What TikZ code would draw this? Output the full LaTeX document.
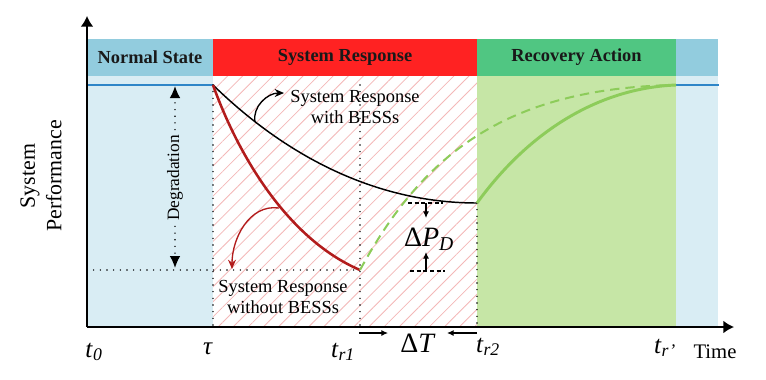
\documentclass[tikz,border=0pt]{standalone}
\usepackage{fontspec}
\setmainfont{Liberation Serif}
\usetikzlibrary{patterns.meta,arrows.meta}
\definecolor{headblue}{RGB}{146,204,222}
\definecolor{bodyblue}{RGB}{217,237,244}
\definecolor{headred}{RGB}{255,34,34}
\definecolor{headgreen}{RGB}{80,198,130}
\definecolor{bodygreen}{RGB}{198,230,166}
\definecolor{lineblue}{RGB}{46,134,200}
\definecolor{darkred}{RGB}{178,28,28}
\definecolor{curvegreen}{RGB}{141,204,90}
\definecolor{hatchpink}{RGB}{244,184,184}

\begin{document}
\begin{tikzpicture}[x=0.75pt,y=-0.75pt,
	dotline/.style={line width=1.2pt, line cap=round, dash pattern=on 0pt off 5pt},
	axis/.style={line width=1.1pt, -{Latex[length=8pt,width=9.5pt]}},
	small/.style={-{Latex[length=5pt,width=4.5pt]}, line width=0.8pt},
	note/.style={-{Stealth[length=7pt,width=6pt]}, line width=1pt}]
	\useasboundingbox (0,0) rectangle (766,379);
	\fill[bodyblue] (87,76) rectangle (213,327);
	\fill[white] (213,76) rectangle (477,327);
	\fill[pattern={Lines[angle=45,distance=8pt,line width=0.6pt]}, pattern color=hatchpink] (213,76) rectangle (477,327);
	\fill[bodygreen] (477,76) rectangle (676,327);
	\fill[bodyblue] (676,76) rectangle (718,327);
	\begin{scope}[every node/.style={draw=none, inner sep=0, minimum height=27.75pt, font=\fontsize{13.8}{16}\selectfont\bfseries, text=black!90}]
		\node[fill=headblue, minimum width=94.5pt] (NS) at (150,57.5) {Normal State};
		\node[fill=headred, minimum width=198pt] (SR) at (345,57.5) {System Response};
		\node[fill=headgreen, minimum width=149.25pt] (RA) at (576.5,57.5) {Recovery Action};
		\node[fill=headblue, minimum width=31.5pt] (E) at (697,57.5) {};
	\end{scope}
	\draw[lineblue, line width=1.5pt] (87,85) -- (213,85);
	\draw[lineblue, line width=1.5pt] (676,85) -- (719,85);
	\coordinate (O) at (87,327);
	\coordinate (Ytop) at (87,16);
	\coordinate (Xend) at (734,327);
	\coordinate (Tau) at (213,327);
	\coordinate (Tr1) at (360,327);
	\coordinate (Tr2) at (477,327);
	\coordinate (P0) at (213,85);
	\coordinate (P1) at (360,270);
	\coordinate (P2) at (477,203);
	\coordinate (P3) at (676,85);
	\draw[dotline] (P0) -- (Tau);
	\draw[dotline] (360,85) -- (Tr1);
	\draw[dotline] (P2) -- (Tr2);
	\draw[dotline] (87,270) -- (P1);
	\draw[axis] (O) -- (Ytop);
	\draw[axis] (O) -- (Xend);
	\draw[black, line width=1.1pt] (P0) .. controls (290,160) and (380,203) .. (P2);
	\draw[darkred, line width=1.9pt] (P0) .. controls (240,160) and (290,240) .. (P1);
	\draw[curvegreen, line width=1.5pt, dash pattern=on 7pt off 4.5pt] (P1) .. controls (420,160) and (500,88) .. (P3);
	\draw[curvegreen, line width=2.2pt] (P2) .. controls (530,130) and (600,88) .. (P3);
	\begin{scope}[every node/.style={align=center, inner sep=1pt, font=\fontsize{13.8}{15.5}\selectfont}]
		\node (WB) at (355,107) {System Response\\with BESSs};
		\node (WOB) at (283,297) {System Response\\without BESSs};
		\node[rotate=90, font=\fontsize{13}{15}\selectfont, fill=bodyblue] (DG) at (175,178) {Degradation};
		\node[rotate=90, font=\fontsize{16.4}{20}\selectfont] (SP) at (41,176) {System\\Performance};
	\end{scope}
	\coordinate (bk) at (255,122);
	\coordinate (bkend) at (284,93);
	\coordinate (rd) at (279,208);
	\coordinate (rdend) at (232,269);
	\draw[note, black] (bk) to[out=100,in=180] (bkend);
	\draw[note, darkred] (rd) to[out=172,in=90] (rdend);
	\coordinate (DGt) at (175,86);
	\coordinate (DGb) at (175,268);
	\draw[dotline, -{Latex[length=9pt,width=8pt]}, shorten <=3pt] (DG.east) -- (DGt);
	\draw[dotline, -{Latex[length=9pt,width=8pt]}, shorten <=3pt] (DG.west) -- (DGb);
	\draw[line width=0.9pt, dash pattern=on 3pt off 2pt] (408,203) -- (443,203);
	\draw[line width=0.9pt, dash pattern=on 3pt off 2pt] (410,271) -- (445,271);
	\coordinate (dpa) at (426,203);
	\coordinate (dpb) at (426,218);
	\coordinate (dpc) at (426,271);
	\coordinate (dpd) at (426,252);
	\draw[small] (dpa) -- (dpb);
	\draw[small] (dpc) -- (dpd);
	\coordinate (dta) at (359,333);
	\coordinate (dtb) at (388,333);
	\coordinate (dtc) at (477,333);
	\coordinate (dtd) at (447,333);
	\draw[small] (dta) -- (dtb);
	\draw[small] (dtc) -- (dtd);
	\begin{scope}[every node/.style={anchor=base, inner sep=0, font=\fontsize{19}{22}\selectfont}]
		\node (L0) at (94,357) {\textit{t}\textsubscript{\textit{0}}};
		\node (LT) at (208,354) {\textit{τ}};
		\node (L1) at (343,357) {\textit{t}\textsubscript{\textit{r1}}};
		\node (L2) at (488,352) {\textit{t}\textsubscript{\textit{r2}}};
		\node (L3) at (665,353) {\textit{t}\textsubscript{\textit{r'}}};
		\node[font=\fontsize{21}{24}\selectfont] (DT) at (418,352) {Δ\textit{T}};
		\node[font=\fontsize{21}{24}\selectfont] (DP) at (429,246) {Δ\textit{P}\textsubscript{\textit{D}}};
		\node[font=\fontsize{15.5}{18}\selectfont] (TM) at (715,358) {Time};
	\end{scope}
\end{tikzpicture}
\end{document}
